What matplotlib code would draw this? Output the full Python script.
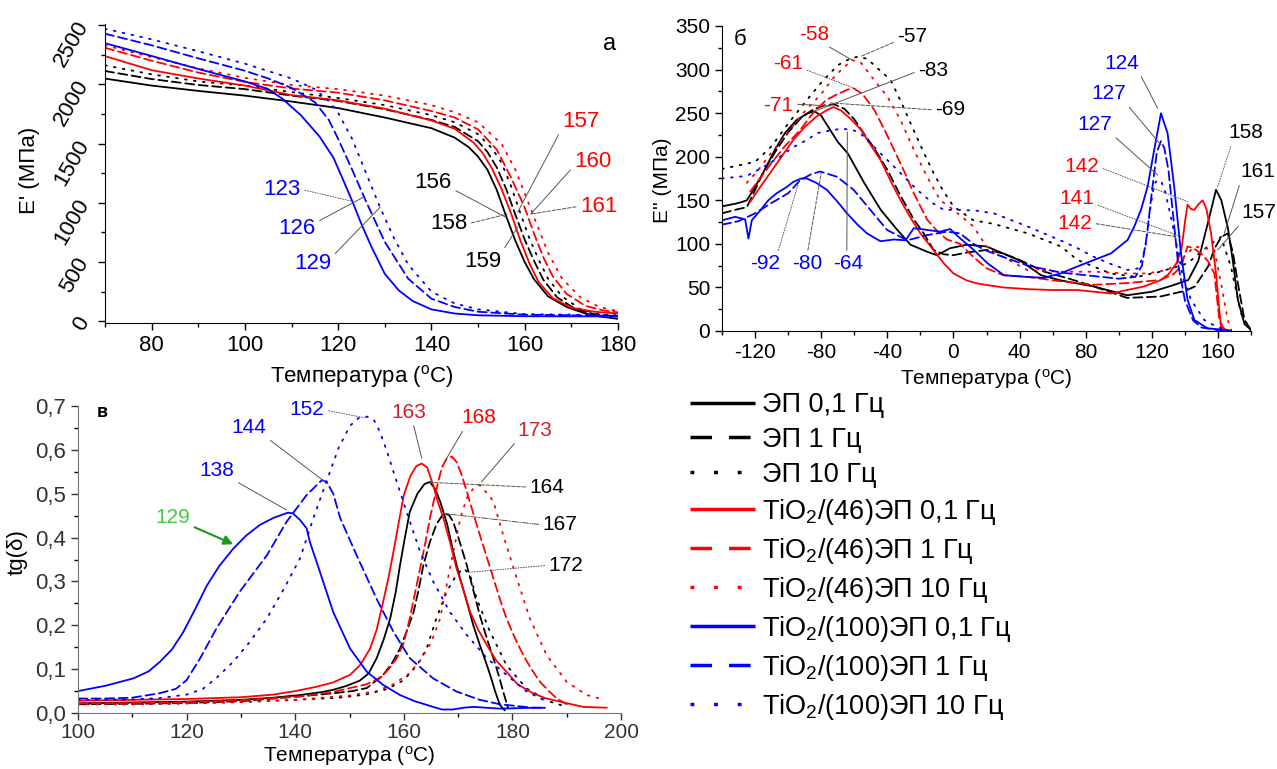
import numpy as np
import matplotlib.pyplot as plt
from matplotlib.lines import Line2D
from matplotlib.ticker import MultipleLocator, FuncFormatter

plt.rcParams['font.family'] = ['Liberation Sans', 'DejaVu Sans']
plt.rcParams['mathtext.default'] = 'regular'
plt.rcParams['axes.unicode_minus'] = False

# -----------------------------
# (а) E' , МПа
# -----------------------------
a_ep01_t = [70, 80, 90, 100, 110, 120, 130, 140, 145, 148, 150, 152, 154, 156, 158, 160, 162, 165, 169, 173, 176, 180]
a_ep01_y = [2049, 1990, 1945, 1905, 1855, 1800, 1720, 1630, 1550, 1470, 1390, 1280, 1110, 890, 680, 500, 355, 210, 120, 65, 40, 20]
a_ep1_t = [70, 80, 90, 100, 110, 120, 130, 140, 145, 150, 152, 154, 156, 158, 160, 162, 164, 167, 171, 175, 180]
a_ep1_y = [2113, 2045, 1995, 1960, 1905, 1860, 1790, 1700, 1640, 1520, 1430, 1300, 1120, 900, 690, 510, 350, 200, 100, 60, 40]
a_ep10_t = [70, 80, 90, 100, 110, 120, 130, 140, 145, 150, 153, 155, 157, 159, 161, 163, 165, 168, 172, 176, 180]
a_ep10_y = [2161, 2085, 2025, 1990, 1935, 1885, 1825, 1740, 1680, 1580, 1460, 1340, 1150, 920, 700, 520, 360, 210, 100, 60, 45]
a_t46_01_t = [70, 80, 90, 100, 110, 120, 130, 140, 145, 149, 151, 153, 155, 157, 159, 161, 163, 166, 170, 175, 180]
a_t46_01_y = [2239, 2120, 2050, 1990, 1910, 1865, 1795, 1695, 1625, 1510, 1420, 1290, 1120, 920, 690, 490, 330, 195, 115, 80, 65]
a_t46_1_t = [70, 80, 90, 100, 110, 120, 130, 140, 145, 150, 154, 157, 160, 162, 164, 166, 169, 173, 177, 180]
a_t46_1_y = [2309, 2200, 2100, 2021, 1965, 1930, 1865, 1775, 1720, 1620, 1450, 1220, 960, 740, 540, 380, 230, 130, 90, 75]
a_t46_10_t = [70, 80, 90, 100, 110, 120, 130, 140, 145, 150, 155, 158, 161, 163, 165, 168, 172, 176, 180]
a_t46_10_y = [2330, 2230, 2135, 2055, 1995, 1960, 1905, 1825, 1765, 1680, 1500, 1280, 980, 780, 580, 360, 200, 120, 85]
a_t100_01_t = [70, 80, 90, 100, 105, 108, 112, 116, 119, 121, 123, 125, 127, 130, 133, 136, 140, 145, 150, 160, 180]
a_t100_01_y = [2348, 2240, 2130, 2025, 1960, 1880, 1740, 1560, 1380, 1200, 1016, 820, 640, 400, 260, 170, 100, 65, 50, 42, 40]
a_t100_1_t = [70, 80, 90, 100, 105, 110, 115, 118, 120, 123, 126, 130, 135, 140, 145, 150, 160, 180]
a_t100_1_y = [2428, 2330, 2220, 2115, 2050, 1970, 1850, 1700, 1540, 1280, 1010, 670, 360, 190, 120, 80, 55, 45]
a_t100_10_t = [70, 80, 90, 100, 110, 115, 118, 120, 123, 126, 129, 132, 135, 140, 145, 150, 160, 180]
a_t100_10_y = [2470, 2380, 2280, 2175, 2050, 1960, 1860, 1760, 1540, 1250, 960, 700, 480, 250, 150, 100, 60, 50]

# -----------------------------
# (б) E'' , МПа
# -----------------------------
b_ep01_t = [-140, -132, -128, -125, -121, -115, -108, -102, -95, -88, -84, -80, -75, -70, -64, -54, -44, -34, -26, -16, -10, -2, 8, 20, 30, 40, 53, 65, 85, 105, 120, 132, 142, 148, 154, 158.8, 162, 166, 169, 172, 176, 180]
b_ep01_y = [143, 146, 148, 150, 162, 182, 208, 227, 242, 250, 252, 247, 232, 217, 204, 170, 139, 116, 99, 91, 87, 95, 99, 97, 89, 81, 64, 58, 51, 41, 45, 52, 58.5, 80, 125, 162, 150, 118, 80, 36, 8, 1]
b_ep1_t = [-140, -130, -125, -121, -115, -108, -100, -92, -85, -78, -72, -66, -60, -54, -48, -40, -32, -24, -18, -12, -6, 0, 8, 20, 30, 40, 55, 70, 85, 105, 125, 140, 146, 154, 158, 162, 165.9, 169, 172, 176, 180]
b_ep1_y = [135, 140, 142, 158, 182, 205, 228, 245, 254, 259, 260, 255, 243, 226, 210, 185, 155, 128, 112, 93, 88, 87, 90, 93, 89, 81.5, 68, 60, 51, 38, 39.5, 46, 51, 74, 95, 108, 112, 90, 55, 12.6, 1]
b_ep10_t = [-140, -130, -120, -110, -100, -90, -80, -70, -62, -57, -52, -45, -38, -31, -24, -18, -12, -6, 0, 6, 12, 24, 45, 65, 75, 95, 111, 125, 141.6, 153.7, 161.8, 167.8, 173.9, 180]
b_ep10_y = [186, 190, 194, 212, 238, 262, 285, 305, 313, 315, 312, 300, 288, 260, 230, 205, 181, 160, 143, 135, 127, 123, 112, 97, 81.5, 66, 62, 68, 77.6, 97, 108, 74, 20, 0]
b_t46_01_t = [-123, -117, -111, -104, -97, -90, -83, -77, -72.5, -68, -62, -56, -50, -44, -38, -32, -26, -20, -13, -6, 0, 8, 14, 20, 30, 45, 60, 75, 95, 115, 125, 130, 135, 138, 140, 141.6, 143.5, 145.7, 148, 150.7, 153, 155.8, 158.8, 160.5, 161.8, 166]
b_t46_01_y = [148, 165, 181, 200, 219, 234, 246, 253, 257, 253, 243, 231, 213, 196, 172, 150, 130, 112, 95, 78, 66, 58, 54.7, 52.8, 50, 48, 47, 47, 43, 51, 58, 65, 78, 95, 125, 145, 140, 139, 145, 150, 140, 112, 66, 30, 5, 0]
b_t46_1_t = [-123, -117, -110, -102, -93, -85, -77, -70, -64, -60.4, -55, -48, -42, -36, -30, -24, -16, -10, -4, 4, 12, 20, 30, 45, 65, 85, 105, 125, 133, 137.6, 141.6, 145, 149.7, 154, 157.8, 160.8, 163.9]
b_t46_1_y = [160, 175, 193, 212, 230, 250, 265, 272, 277, 278.5, 272, 254, 232, 208, 184, 158, 128, 115, 105, 100, 85, 72, 64, 62, 57, 53, 55, 58.5, 65, 74, 97, 95, 89, 80, 66, 12.6, 1]
b_t46_10_t = [-125, -118, -110, -100, -90, -80, -72, -66, -61.4, -56, -48, -40, -32, -24, -16, -8, 0, 12, 20, 30, 44.6, 64.8, 85, 105, 117, 129.5, 137.6, 145.7, 152, 157.8, 161.8, 165.9, 168]
b_t46_10_y = [170, 185, 205, 228, 252, 272, 292, 303, 311, 308, 288, 269, 242, 208, 177, 150, 139, 120, 97, 85, 70, 68, 68, 66, 66, 70, 81.5, 97, 95, 93, 55, 12.6, 1]
b_t100_01_t = [-140, -132, -126, -124, -122, -117, -112, -107, -101, -97, -92, -88.7, -83, -76.6, -70, -64.4, -58, -52.3, -44.2, -36, -29, -24, -16, -8, -2, 4.2, 12.3, 20.4, 30.5, 44.6, 54.7, 64.8, 74.9, 85, 95.2, 105.3, 109.3, 113.4, 117.4, 121.4, 125.5, 129.5, 133.5, 137.6, 141.6, 145.7, 153.7, 165.9]
b_t100_01_y = [127, 131, 128, 106, 127, 138, 150, 158, 165, 171, 175, 175, 170, 162, 148, 135, 122, 112, 103, 105, 104, 118, 116, 114, 117, 106, 93, 78, 64, 62, 61, 66, 74, 81.5, 89, 104.4, 119.7, 138.9, 165.6, 207.7, 249.8, 226.9, 165.6, 89.1, 35.6, 12.6, 3, 1]
b_t100_1_t = [-140, -130, -120, -110, -100, -92.7, -86, -80.6, -70.5, -60.4, -50.3, -40.2, -28, -16, -4, 4, 12, 20, 30, 45, 65, 85, 100, 110, 114, 117, 120, 123, 125.5, 127.5, 130, 133, 136, 140, 145, 150, 160, 168]
b_t100_1_y = [122, 126, 135, 147, 158, 173, 180, 183, 177, 162, 139, 116, 104, 110, 114, 112, 100, 92, 85, 75, 67, 63, 60, 62, 75, 110, 160, 205, 218, 210, 185, 130, 75, 35, 12, 4, 1, 0]
b_t100_10_t = [-140, -125, -115, -105, -96.8, -88, -82.6, -72, -66.4, -60, -56.4, -46.3, -36.2, -22, -12, -5.9, 4.2, 14, 24.4, 34, 44.6, 54.7, 64.8, 75, 85, 95, 105.3, 112, 116, 119, 121.4, 123.5, 125.5, 128, 131, 135.6, 139, 143.6, 151.7, 160, 168]
b_t100_10_y = [175, 178, 188, 200, 211, 220, 227, 231, 232, 230, 227, 208, 189, 162, 146, 139, 139, 138, 135, 128, 120, 112, 104, 95, 85, 77, 70, 72, 95, 140, 169, 173, 172.5, 160, 135, 93, 60, 36, 12.6, 4, 0]

# -----------------------------
# (в) tg(δ)
# -----------------------------
c_ep01_t = [100, 110, 120, 130, 136, 140.9, 145, 147, 149.5, 151.9, 153.5, 155, 156.3, 157.5, 158.5, 159.3, 160.2, 161.1, 162.5, 163.8, 164.8, 165.8, 166.7, 168, 169.1, 170.3, 171.6, 172.8, 174, 175, 175.9, 176.8, 177.7, 178.6]
c_ep01_y = [0.022, 0.024, 0.026, 0.03, 0.035, 0.041, 0.048, 0.053, 0.062, 0.074, 0.09, 0.125, 0.168, 0.216, 0.275, 0.337, 0.4, 0.459, 0.5, 0.522, 0.527, 0.51, 0.482, 0.43, 0.368, 0.31, 0.254, 0.2, 0.155, 0.12, 0.087, 0.05, 0.018, 0.006]
c_ep1_t = [100, 110, 120, 130, 140.9, 147, 150.5, 153.2, 156.2, 157.8, 159.3, 160.5, 161.8, 162.7, 163.6, 164.8, 166, 167.3, 168.3, 169.1, 170.3, 171.6, 172.8, 174, 175.3, 176.5, 177.5, 178.3, 179.2]
c_ep1_y = [0.02, 0.021, 0.023, 0.027, 0.038, 0.045, 0.05, 0.057, 0.087, 0.113, 0.147, 0.185, 0.23, 0.28, 0.337, 0.39, 0.43, 0.455, 0.452, 0.436, 0.39, 0.337, 0.28, 0.223, 0.17, 0.125, 0.085, 0.049, 0.011]
c_ep10_t = [100, 110, 120, 130, 140, 148, 153, 157, 160, 162.5, 164.2, 166, 167.9, 169.7, 171, 172.2, 173.4, 175.9, 178.9, 182.6, 186.9, 190]
c_ep10_y = [0.02, 0.02, 0.022, 0.025, 0.03, 0.035, 0.042, 0.055, 0.075, 0.11, 0.147, 0.216, 0.277, 0.315, 0.33, 0.315, 0.261, 0.185, 0.109, 0.056, 0.026, 0.014]
c_t46_01_t = [100, 110, 120, 130, 136, 140, 144, 147, 150.1, 152, 153.8, 155, 156.2, 157.2, 158.1, 159, 160, 161.2, 162.3, 163.3, 164.3, 165.4, 166.3, 167.3, 168.5, 169.7, 171, 172.2, 173.7, 175.3, 177, 178.9, 181, 183.8, 186, 188.8, 193, 197.4]
c_t46_01_y = [0.028, 0.03, 0.032, 0.036, 0.042, 0.05, 0.06, 0.07, 0.087, 0.11, 0.147, 0.19, 0.254, 0.31, 0.368, 0.43, 0.497, 0.54, 0.563, 0.569, 0.56, 0.52, 0.48, 0.444, 0.39, 0.33, 0.28, 0.231, 0.19, 0.155, 0.12, 0.094, 0.065, 0.045, 0.034, 0.026, 0.014, 0.012]
c_t46_1_t = [100, 110, 120, 130, 140.9, 147, 150.1, 153, 155.6, 157.2, 158.7, 160, 161.1, 162, 163, 164, 164.8, 166, 167, 167.9, 168.8, 169.7, 170.6, 171.6, 172.8, 174, 175.3, 176.5, 177.7, 178.9, 180.5, 182, 183.5, 185.1, 186.7, 188.2, 190]
c_t46_1_y = [0.022, 0.023, 0.025, 0.029, 0.038, 0.048, 0.057, 0.065, 0.079, 0.1, 0.125, 0.16, 0.216, 0.27, 0.33, 0.39, 0.444, 0.51, 0.56, 0.58, 0.585, 0.573, 0.545, 0.505, 0.455, 0.406, 0.355, 0.307, 0.26, 0.216, 0.17, 0.132, 0.1, 0.071, 0.05, 0.033, 0.02]
c_t46_10_t = [100, 110, 120, 130, 140, 150, 155, 158, 161, 163, 165, 166.7, 168.5, 170.4, 171.6, 172.8, 174, 174.6, 175.5, 176.5, 178.3, 180.8, 183.2, 186.3, 190, 193.7, 197]
c_t46_10_y = [0.02, 0.02, 0.022, 0.025, 0.03, 0.04, 0.05, 0.065, 0.09, 0.12, 0.16, 0.216, 0.33, 0.444, 0.49, 0.512, 0.52, 0.51, 0.5, 0.482, 0.406, 0.307, 0.216, 0.132, 0.071, 0.041, 0.03]
c_t100_01_t = [100, 105, 110.2, 113, 115.1, 117.3, 119.4, 121.5, 123.7, 126, 128.6, 131, 133.5, 136, 138.7, 139.6, 140.9, 142.1, 142.7, 144.6, 147, 150.1, 153.2, 156.2, 159.3, 162, 165.4, 167, 169, 171, 172.8, 177.7, 183.8, 186]
c_t100_01_y = [0.05, 0.062, 0.079, 0.095, 0.117, 0.145, 0.185, 0.235, 0.29, 0.335, 0.375, 0.405, 0.429, 0.445, 0.457, 0.455, 0.44, 0.421, 0.39, 0.32, 0.23, 0.147, 0.094, 0.064, 0.041, 0.027, 0.014, 0.008, 0.008, 0.012, 0.014, 0.01, 0.012, 0.012]
c_t100_1_t = [100, 105, 110, 115, 118, 120, 122.5, 125.5, 129.8, 134.8, 138.4, 142.1, 144.9, 145.8, 147, 148.3, 151.3, 155, 158.1, 161.1, 165.4, 169.7, 174, 177.7, 183.8, 186]
c_t100_1_y = [0.033, 0.033, 0.035, 0.045, 0.055, 0.075, 0.125, 0.193, 0.277, 0.36, 0.436, 0.497, 0.531, 0.527, 0.5, 0.444, 0.36, 0.26, 0.185, 0.125, 0.079, 0.049, 0.03, 0.02, 0.012, 0.012]
c_t100_10_t = [100, 105, 110, 115, 120, 123, 125.5, 128.6, 131.5, 134.8, 138, 140.9, 143.5, 146.4, 148, 150.1, 151.6, 153.2, 154.5, 155.6, 156.8, 158.1, 160.5, 163, 165.4, 168.5, 171.6, 175.3, 178.9, 182.5, 186.3]
c_t100_10_y = [0.03, 0.03, 0.031, 0.034, 0.042, 0.055, 0.08, 0.117, 0.16, 0.216, 0.285, 0.353, 0.45, 0.55, 0.605, 0.655, 0.672, 0.676, 0.668, 0.641, 0.6, 0.55, 0.459, 0.368, 0.3, 0.23, 0.178, 0.125, 0.087, 0.05, 0.026]

labels = ['ЭП 0,1 Гц', 'ЭП 1 Гц', 'ЭП 10 Гц',
          'TiO$_2$/(46)ЭП 0,1 Гц', 'TiO$_2$/(46)ЭП 1 Гц', 'TiO$_2$/(46)ЭП 10 Гц',
          'TiO$_2$/(100)ЭП 0,1 Гц', 'TiO$_2$/(100)ЭП 1 Гц', 'TiO$_2$/(100)ЭП 10 Гц']
colors = ['black'] * 3 + ['red'] * 3 + ['blue'] * 3
styles = [(0, ()), (0, (5, 2.5)), (0, (1, 4))] * 3

LW = 1.3
GRAY = '#555555'

fig = plt.figure(figsize=(12.77, 7.69), dpi=100)
ax1 = fig.add_axes([0.0822, 0.580, 0.4017, 0.3888])
ax2 = fig.add_axes([0.5654, 0.5696, 0.4143, 0.3966])
ax3 = fig.add_axes([0.0611, 0.0728, 0.4252, 0.3992])

series_a = [(a_ep01_t, a_ep01_y), (a_ep1_t, a_ep1_y), (a_ep10_t, a_ep10_y),
            (a_t46_01_t, a_t46_01_y), (a_t46_1_t, a_t46_1_y), (a_t46_10_t, a_t46_10_y),
            (a_t100_01_t, a_t100_01_y), (a_t100_1_t, a_t100_1_y), (a_t100_10_t, a_t100_10_y)]
series_b = [(b_ep01_t, b_ep01_y), (b_ep1_t, b_ep1_y), (b_ep10_t, b_ep10_y),
            (b_t46_01_t, b_t46_01_y), (b_t46_1_t, b_t46_1_y), (b_t46_10_t, b_t46_10_y),
            (b_t100_01_t, b_t100_01_y), (b_t100_1_t, b_t100_1_y), (b_t100_10_t, b_t100_10_y)]
series_c = [(c_ep01_t, c_ep01_y), (c_ep1_t, c_ep1_y), (c_ep10_t, c_ep10_y),
            (c_t46_01_t, c_t46_01_y), (c_t46_1_t, c_t46_1_y), (c_t46_10_t, c_t46_10_y),
            (c_t100_01_t, c_t100_01_y), (c_t100_1_t, c_t100_1_y), (c_t100_10_t, c_t100_10_y)]

for ax, series in [(ax1, series_a), (ax2, series_b), (ax3, series_c)]:
    for (t, y), c, ls in zip(series, colors, styles):
        ax.plot(t, y, color=c, lw=LW, linestyle=ls, dash_capstyle='round')
    for side in ['top', 'right']:
        ax.spines[side].set_visible(False)
    ax.tick_params(which='major', direction='out', length=5, width=1, labelsize=16)
    ax.tick_params(which='minor', direction='out', length=3, width=1)

xlabel = 'Температура ($^{o}$C)'

# --- (а) ---
ax1.set_xlim(70, 180)
ax1.set_ylim(-15, 2510)
ax1.xaxis.set_major_locator(MultipleLocator(20))
ax1.xaxis.set_minor_locator(MultipleLocator(10))
ax1.yaxis.set_major_locator(MultipleLocator(500))
ax1.yaxis.set_minor_locator(MultipleLocator(250))
ax1.tick_params(axis='y', labelrotation=60)
ax1.set_xlabel(xlabel, fontsize=16)
ax1.set_ylabel("E' (МПа)", fontsize=16)
ax1.xaxis.set_label_coords(0.50, -0.134)
ax1.yaxis.set_label_coords(-0.127, 0.51)
ax1.text(178.3, 2345, 'а', fontsize=17, ha='center', va='center')


def note(ax, text, xy, xytext, color, relpos, ls='-', fs=16):
    ax.annotate(text, xy=xy, xytext=xytext, color=color, fontsize=fs,
                ha='center', va='center', annotation_clip=False,
                arrowprops=dict(arrowstyle='-', color=GRAY, lw=0.7, ls=ls,
                                relpos=relpos, shrinkA=1, shrinkB=0))


note(ax1, '123', (123.0, 1013), (108.0, 1114), 'blue', (1, 0.5), ':')
note(ax1, '126', (125.4, 1047), (111.2, 779), 'blue', (1, 0.8))
note(ax1, '129', (129.0, 963), (114.6, 486), 'blue', (1, 0.8))
note(ax1, '156', (155.9, 879), (140.4, 1173), 'black', (1, 0.2))
note(ax1, '158', (156.3, 905), (143.7, 821), 'black', (1, 0.5), '--')
note(ax1, '159', (158.5, 796), (151.0, 503), 'black', (1, 0.9))
note(ax1, '157', (158.5, 921), (172.0, 1683), 'red', (0, 0.2))
note(ax1, '160', (161.3, 905), (174.6, 1348), 'red', (0, 0.3))
note(ax1, '161', (161.3, 905), (175.9, 972), 'red', (0, 0.5), '--')

# --- (б) ---
ax2.set_xlim(-140, 180)
ax2.set_ylim(0, 350)
ax2.xaxis.set_major_locator(MultipleLocator(40))
ax2.xaxis.set_minor_locator(MultipleLocator(20))
ax2.yaxis.set_major_locator(MultipleLocator(50))
ax2.yaxis.set_minor_locator(MultipleLocator(25))
ax2.tick_params(labelsize=15)
ax2.set_xlabel(xlabel, fontsize=15)
ax2.set_ylabel("E'' (МПа)", fontsize=15)
ax2.xaxis.set_label_coords(0.499, -0.118)
ax2.yaxis.set_label_coords(-0.0945, 0.495)
ax2.text(-129.1, 335, 'б', fontsize=16, ha='center', va='center')

note(ax2, '-58', (-61.4, 311), (-84.2, 340.8), 'red', (0.8, 0), fs=15)
note(ax2, '-57', (-56.4, 314.8), (-24.8, 337.4), 'black', (0, 0.3), '--', fs=15)
note(ax2, '-61', (-60.6, 278.9), (-100, 307.5), 'red', (1, 0.2), ':', fs=15)
note(ax2, '-83', (-83.6, 252.5), (-12.1, 298.4), 'black', (0, 0.5), fs=15)
note(ax2, '-71', (-74.5, 258.2), (-106, 258.2), 'red', (1, 0.6), fs=15)
note(ax2, '-69', (-74.5, 261.7), (-1.8, 253.6), 'black', (0, 0.5), '--', fs=15)
note(ax2, '-92', (-92.7, 176.4), (-113.9, 76.9), 'blue', (0.9, 1), ':', fs=15)
note(ax2, '-80', (-80.0, 181.7), (-88.5, 76.9), 'blue', (0.5, 1), '--', fs=15)
note(ax2, '-64', (-64.2, 228.4), (-63.6, 76.9), 'blue', (0.45, 1), fs=15)
note(ax2, '124', (123.5, 255.6), (101.8, 307.5), 'blue', (1, 0), fs=15)
note(ax2, '127', (125.5, 213.4), (93.9, 272), 'blue', (1, 0), fs=15)
note(ax2, '127', (123.5, 179), (85.5, 236.4), 'blue', (1, 0), fs=15)
note(ax2, '142', (141.6, 148.4), (77.6, 188.2), 'red', (1, 0.5), ':', fs=15)
note(ax2, '141', (137.6, 108.2), (74.5, 152.6), 'red', (1, 0.2), ':', fs=15)
note(ax2, '142', (134.5, 108.2), (73.3, 123.9), 'red', (1, 0.5), '--', fs=15)
note(ax2, '158', (159.8, 165.6), (177, 227.2), 'black', (0.1, 0), ':', fs=15)
note(ax2, '161', (163.8, 112.1), (184.2, 182.5), 'black', (0, 0), fs=15)
note(ax2, '157', (159.8, 93), (184.8, 135.4), 'black', (0, 0), fs=15)

# --- (в) ---
ax3.set_xlim(100, 200)
ax3.set_ylim(0, 0.7)
ax3.xaxis.set_major_locator(MultipleLocator(20))
ax3.xaxis.set_minor_locator(MultipleLocator(10))
ax3.yaxis.set_major_locator(MultipleLocator(0.1))
ax3.yaxis.set_minor_locator(MultipleLocator(0.05))
ax3.yaxis.set_major_formatter(FuncFormatter(lambda v, p: f'{v:.1f}'.replace('.', ',')))
ax3.tick_params(labelsize=16, colors='#333333')
ax3.tick_params(axis='x', labelsize=15, pad=2)
for side in ['left', 'bottom']:
    ax3.spines[side].set_color('#777777')
ax3.set_xlabel(xlabel, fontsize=15)
ax3.set_ylabel('tg(δ)', fontsize=16)
ax3.xaxis.set_label_coords(0.50, -0.1)
ax3.yaxis.set_label_coords(-0.092, 0.524)
ax3.text(104.4, 0.686, 'в', fontsize=13, fontweight='bold', ha='center', va='center')

note(ax3, '152', (152.9, 0.673), (142.2, 0.691), 'blue', (1, 0.5), ':', fs=15)
note(ax3, '144', (145.5, 0.527), (131.5, 0.65), 'blue', (1, 0), fs=15)
note(ax3, '138', (138.4, 0.463), (125.6, 0.552), 'blue', (1, 0), fs=15)
note(ax3, '163', (163.3, 0.581), (161.0, 0.686), '#d0202a', (0.6, 0), fs=15)
note(ax3, '168', (167.9, 0.581), (173.8, 0.673), 'red', (0.1, 0), fs=15)
note(ax3, '173', (174.3, 0.527), (184.2, 0.645), '#d0202a', (0, 0), fs=15)
note(ax3, '164', (164.8, 0.526), (186.4, 0.515), 'black', (0, 0.5), '--', fs=15)
note(ax3, '167', (167.3, 0.455), (188.8, 0.429), 'black', (0, 0.5), '-.', fs=15)
note(ax3, '172', (172.2, 0.321), (189.9, 0.337), 'black', (0, 0.5), ':', fs=15)
ax3.annotate('129', xy=(128.6, 0.385), xytext=(117.5, 0.445), color='#3ccc3c', fontsize=15,
             ha='center', va='center',
             arrowprops=dict(arrowstyle='-|>', color='#1a9a1a', lw=1.5,
                             relpos=(1, 0.1), shrinkA=1, shrinkB=0, mutation_scale=14))

# --- legend ---
leg_styles = [(0, ()), (0, (6.2, 4.9)), (0, (1.1, 5.7))] * 3
handles = [Line2D([], [], color=c, lw=2.5, linestyle=ls) for c, ls in zip(colors, leg_styles)]
fig.legend(handles, labels, loc='upper left', bbox_to_anchor=(690 / 1277, 1 - 392 / 769),
           frameon=False, fontsize=19.5, handlelength=2.4, handletextpad=0.25,
           labelspacing=0.33, borderpad=0, borderaxespad=0)

fig.savefig('out.png', dpi=100)
